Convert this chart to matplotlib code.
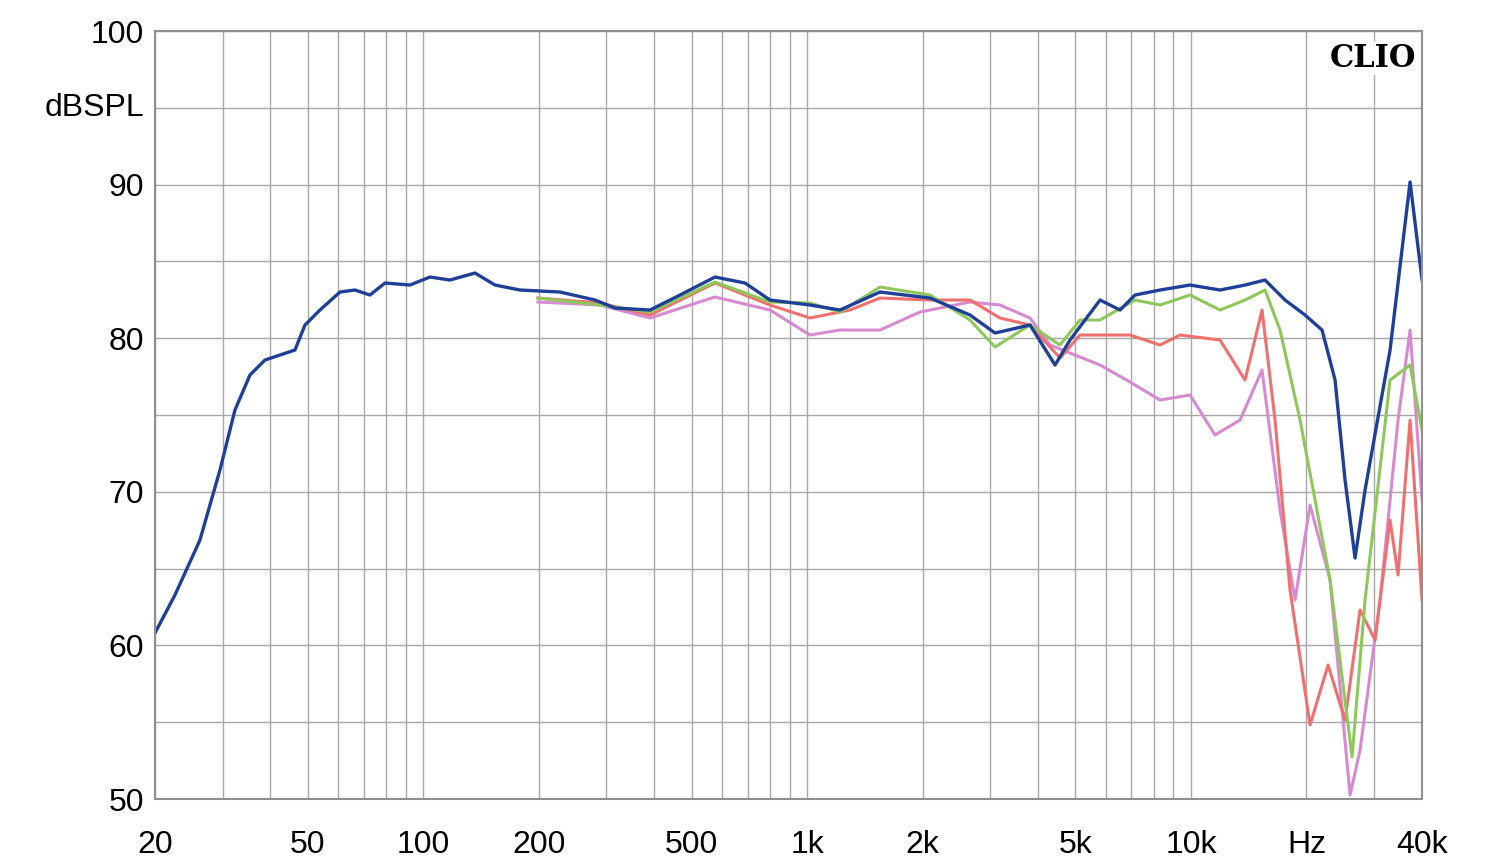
import matplotlib
matplotlib.use("Agg")
import matplotlib.pyplot as plt
from matplotlib.ticker import FixedLocator, NullFormatter

plt.rcParams["font.family"] = ["Liberation Sans", "DejaVu Sans"]

# curves in pixel coordinates of the 1500x864 image
blue_x = [155, 175, 200, 220, 235, 250, 265, 295, 305, 320, 340, 355, 370,
          385, 410, 430, 450, 475, 495, 520, 560, 595, 615, 650, 680, 715,
          745, 770, 810, 840, 880, 930, 970, 995, 1030, 1055, 1070, 1100,
          1120, 1135, 1160, 1190, 1220, 1245, 1265, 1285, 1305, 1322, 1335,
          1345, 1355, 1365, 1390, 1410, 1422]
blue_y = [633, 595, 540, 470, 410, 375, 360, 350, 325, 310, 292, 290, 295,
          283, 285, 277, 280, 273, 285, 290, 292, 300, 308, 310, 295, 277,
          283, 300, 305, 310, 292, 298, 315, 333, 325, 365, 340, 300, 310,
          295, 290, 285, 290, 285, 280, 300, 315, 330, 380, 480, 558, 490,
          350, 182, 280]
green_x = [538, 600, 650, 715, 770, 810, 840, 880, 930, 970, 995, 1030, 1060,
           1080, 1100, 1135, 1160, 1190, 1220, 1245, 1265, 1280, 1300, 1330,
           1352, 1365, 1390, 1410, 1422]
green_y = [298, 305, 312, 282, 302, 303, 312, 287, 295, 320, 347, 325, 345,
           320, 320, 300, 305, 295, 310, 300, 290, 330, 420, 580, 757, 600,
           380, 365, 430]
red_x = [538, 600, 650, 715, 770, 810, 850, 880, 930, 970, 1000, 1030, 1060,
         1080, 1130, 1160, 1180, 1220, 1245, 1262, 1275, 1290, 1310, 1328,
         1345, 1360, 1375, 1390, 1398, 1410, 1422]
red_y = [298, 303, 315, 283, 305, 318, 310, 298, 300, 300, 318, 325, 358,
         335, 335, 345, 335, 340, 380, 310, 420, 590, 725, 665, 720, 610, 640,
         520, 575, 420, 600]
pink_x = [538, 600, 650, 715, 770, 810, 840, 880, 920, 970, 1000, 1030, 1050,
          1075, 1100, 1130, 1160, 1190, 1215, 1240, 1262, 1280, 1295, 1310,
          1330, 1350, 1360, 1380, 1398, 1410, 1422]
pink_y = [302, 305, 318, 297, 310, 335, 330, 330, 312, 302, 305, 318, 345,
          355, 365, 382, 400, 395, 435, 420, 370, 510, 600, 505, 580, 795,
          750, 600, 420, 330, 500]


def px2f(xs):
    return [20 * 10 ** ((x - 155) / 383.8) for x in xs]


def py2db(ys):
    return [100 - (y - 31) / 15.36 for y in ys]


fig = plt.figure(figsize=(15, 8.64), dpi=100)
ax = fig.add_axes([0.1033, 0.0752, 0.8447, 0.8889])
ax.set_xscale("log")
ax.set_xlim(20, 40000)
ax.set_ylim(50, 100)

ax.plot(px2f(pink_x), py2db(pink_y), color="#d68ad0", lw=2.2)
ax.plot(px2f(red_x), py2db(red_y), color="#f07070", lw=2.2)
ax.plot(px2f(green_x), py2db(green_y), color="#8ec85a", lw=2.2)
ax.plot(px2f(blue_x), py2db(blue_y), color="#1f3f98", lw=2.4)

major = [20, 50, 100, 200, 500, 1000, 2000, 5000, 10000, 20000, 40000]
labels = ["20", "50", "100", "200", "500", "1k", "2k", "5k", "10k", "Hz", "40k"]
minor = [m * d for d in (10, 100, 1000, 10000) for m in range(1, 10)
         if 20 < m * d < 40000 and m * d not in major]
ax.xaxis.set_major_locator(FixedLocator(major))
ax.set_xticklabels(labels)
ax.xaxis.set_minor_locator(FixedLocator(minor))
ax.xaxis.set_minor_formatter(NullFormatter())
ax.set_yticks([50, 60, 70, 80, 90, 100])
ax.set_yticks([55, 65, 75, 85, 95], minor=True)
ax.grid(which="both", color="#a8a8a8", lw=1.0)
ax.tick_params(which="both", length=0, labelsize=23, pad=8)
ax.tick_params(axis="x", pad=22)
for s in ax.spines.values():
    s.set_color("#909090")
    s.set_linewidth(1.5)

ax.text(-0.008, 0.9, "dBSPL", transform=ax.transAxes, ha="right", va="center",
        fontsize=23, bbox=dict(facecolor="white", edgecolor="none", pad=1))
ax.text(0.995, 0.985, "CLIO", transform=ax.transAxes, ha="right", va="top",
        fontsize=22, fontweight="bold", family="DejaVu Serif",
        bbox=dict(facecolor="white", edgecolor="none", pad=1))

fig.savefig("out.png")
